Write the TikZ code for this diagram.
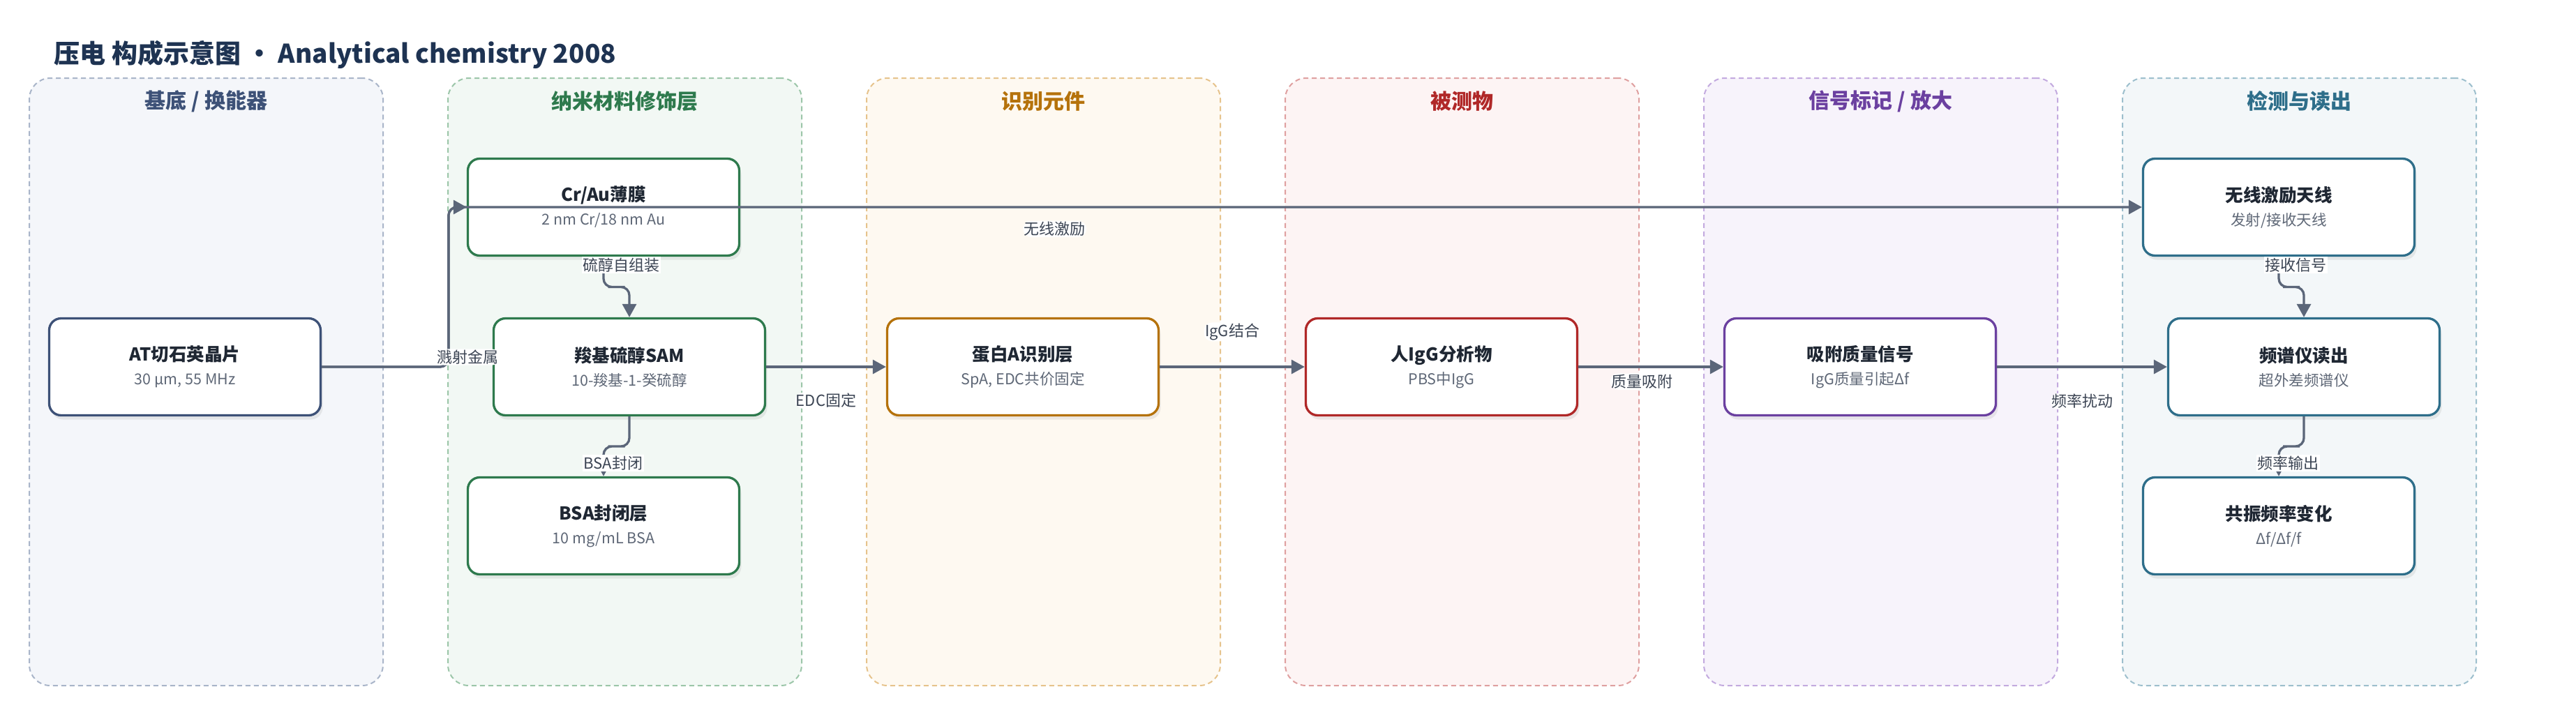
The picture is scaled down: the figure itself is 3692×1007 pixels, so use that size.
\documentclass[tikz,border=0pt]{standalone}
\usepackage{fontspec}
\setmainfont{Noto Sans CJK SC}
\usepackage{tikz,xcolor}
\usetikzlibrary{arrows.meta, positioning, shadows, calc}

\newcommand{\stagetext}[2]{{\fontsize{25.5}{34}\selectfont\bfseries #1}\\{\color{subcolor}#2}}

\begin{document}
\begin{tikzpicture}[x=1pt, y=-1pt, node distance=600pt]

\definecolor{edgecolor}{HTML}{5B6679}
\definecolor{labelcolor}{HTML}{3C4554}
\definecolor{titlecolor}{HTML}{1E3352}
\definecolor{textcolor}{HTML}{1F2733}
\definecolor{subcolor}{HTML}{5F6877}

\definecolor{baseMain}{HTML}{3D5177}
\definecolor{baseFill}{HTML}{F4F6FA}
\definecolor{baseDash}{HTML}{A9B5C9}
\definecolor{nanoMain}{HTML}{2E7A4D}
\definecolor{nanoFill}{HTML}{F2F8F4}
\definecolor{nanoDash}{HTML}{9CC6A9}
\definecolor{recogMain}{HTML}{B5720B}
\definecolor{recogFill}{HTML}{FEF9F1}
\definecolor{recogDash}{HTML}{E6C38C}
\definecolor{targetMain}{HTML}{B02828}
\definecolor{targetFill}{HTML}{FDF4F4}
\definecolor{targetDash}{HTML}{DFA0A0}
\definecolor{signalMain}{HTML}{6B40A0}
\definecolor{signalFill}{HTML}{F7F3FB}
\definecolor{signalDash}{HTML}{C3AADF}
\definecolor{readMain}{HTML}{2E6E8A}
\definecolor{readFill}{HTML}{F3F7F9}
\definecolor{readDash}{HTML}{9DBFCD}

\tikzstyle{lane} = [rectangle, rounded corners=30pt, line width=2pt, dash pattern=on 7pt off 5pt, minimum width=507pt, minimum height=871pt]
\tikzstyle{lanehead} = [font=\fontsize{30}{32}\selectfont\bfseries]
\tikzstyle{box} = [rectangle, rounded corners=17pt, fill=white, line width=3.3pt, minimum width=389pt, minimum height=139pt, align=center, text=textcolor, font=\fontsize{21.5}{34}\selectfont, drop shadow={shadow xshift=3pt, shadow yshift=-6pt, opacity=0.14}]
\tikzstyle{lbl} = [fill=white, inner sep=1.5pt, text=labelcolor, font=\fontsize{22}{24}\selectfont]
\tikzstyle{arrow} = [-{Triangle[length=19pt, width=20pt]}, line width=3.3pt, draw=edgecolor, rounded corners=12pt]

\fill[white] (0,0) rectangle (3692,1007);
\useasboundingbox (0,0) rectangle (3692,1007);

\node[anchor=base west, text=titlecolor, font=\fontsize{37}{40}\selectfont\bfseries] (title) at (74,90) {压电 构成示意图 • Analytical chemistry 2008};

% lanes
\node[lane, draw=baseDash, fill=baseFill] (Lbase) at (295.5,547.5) {};
\node[lane, draw=nanoDash, fill=nanoFill, right of=Lbase] (Lnano) {};
\node[lane, draw=recogDash, fill=recogFill, right of=Lnano] (Lrecog) {};
\node[lane, draw=targetDash, fill=targetFill, right of=Lrecog] (Ltarget) {};
\node[lane, draw=signalDash, fill=signalFill, right of=Ltarget] (Lsignal) {};
\node[lane, draw=readDash, fill=readFill, right of=Lsignal] (Lread) {};

\node[lanehead, text=baseMain] (Hbase) at ([yshift=-34pt]Lbase.north) {基底 / 换能器};
\node[lanehead, text=nanoMain] (Hnano) at ([yshift=-34pt]Lnano.north) {纳米材料修饰层};
\node[lanehead, text=recogMain] (Hrecog) at ([yshift=-34pt]Lrecog.north) {识别元件};
\node[lanehead, text=targetMain] (Htarget) at ([yshift=-34pt]Ltarget.north) {被测物};
\node[lanehead, text=signalMain] (Hsignal) at ([yshift=-34pt]Lsignal.north) {信号标记 / 放大};
\node[lanehead, text=readMain] (Hread) at ([yshift=-34pt]Lread.north) {检测与读出};

% stages
\node[box, draw=baseMain] (AT) at (265,526) {\stagetext{AT切石英晶片}{30 μm, 55 MHz}};
\node[box, draw=nanoMain, right of=AT, yshift=229pt] (CrAu) {\stagetext{Cr/Au薄膜}{2 nm Cr/18 nm Au}};
\node[box, draw=nanoMain, right of=AT, xshift=37pt] (SAM) {\stagetext{羧基硫醇SAM}{10-羧基-1-癸硫醇}};
\node[box, draw=nanoMain, right of=AT, yshift=-228pt] (BSA) {\stagetext{BSA封闭层}{10 mg/mL BSA}};
\node[box, draw=recogMain, right of=SAM, xshift=-36pt] (ProtA) {\stagetext{蛋白A识别层}{SpA, EDC共价固定}};
\node[box, draw=targetMain, right of=ProtA] (IgG) {\stagetext{人IgG分析物}{PBS中IgG}};
\node[box, draw=signalMain, right of=IgG] (Mass) {\stagetext{吸附质量信号}{IgG质量引起Δf}};
\node[box, draw=readMain, right of=Mass, yshift=229pt] (Ant) {\stagetext{无线激励天线}{发射/接收天线}};
\node[box, draw=readMain, right of=Mass, xshift=36pt] (Spec) {\stagetext{频谱仪读出}{超外差频谱仪}};
\node[box, draw=readMain, right of=Mass, yshift=-228pt] (Res) {\stagetext{共振频率变化}{Δf/Δf/f}};

% connectors
\coordinate (sput) at ([xshift=-26pt]CrAu.west);

\draw[arrow] (AT.east) -| (sput) -- node[lbl, pos=0.358, below=18pt] (lWire) {无线激励} (Ant.west);
\draw[arrow] (AT.east) -| node[lbl, pos=0.5, xshift=28pt, yshift=14pt] (lSput) {溅射金属} (sput) -- (CrAu.west);
\draw[arrow] (CrAu.south) |- ($(CrAu.south)!0.5!(SAM.north)$) -| (SAM.north);
\draw[arrow] (SAM.south) |- ($(SAM.south)!0.5!(BSA.north)$) -| (BSA.north);
\draw[arrow] (SAM) -- node[lbl, below=35pt] (lEdc) {EDC固定} (ProtA);
\draw[arrow] (ProtA) -- node[lbl, above=35pt] (lBind) {IgG结合} (IgG);
\draw[arrow] (IgG) -- node[lbl, below=8pt, xshift=-13pt] (lAds) {质量吸附} (Mass);
\draw[arrow] (Mass) -- node[lbl, below=36pt] (lPert) {频率扰动} (Spec);
\draw[arrow] (Ant.south) |- ($(Ant.south)!0.5!(Spec.north)$) -| (Spec.north);
\draw[arrow] (Spec.south) |- ($(Spec.south)!0.5!(Res.north)$) -| (Res.north);

\node[lbl, below=0pt of CrAu.south, xshift=25pt] (lSelf) {硫醇自组装};
\node[lbl, above=7pt of BSA.north, xshift=14pt] (lBlock) {BSA封闭};
\node[lbl, below=0pt of Ant.south, xshift=24pt] (lRecv) {接收信号};
\node[lbl, above=7pt of Res.north, xshift=13pt] (lOut) {频率输出};

\end{tikzpicture}
\end{document}
